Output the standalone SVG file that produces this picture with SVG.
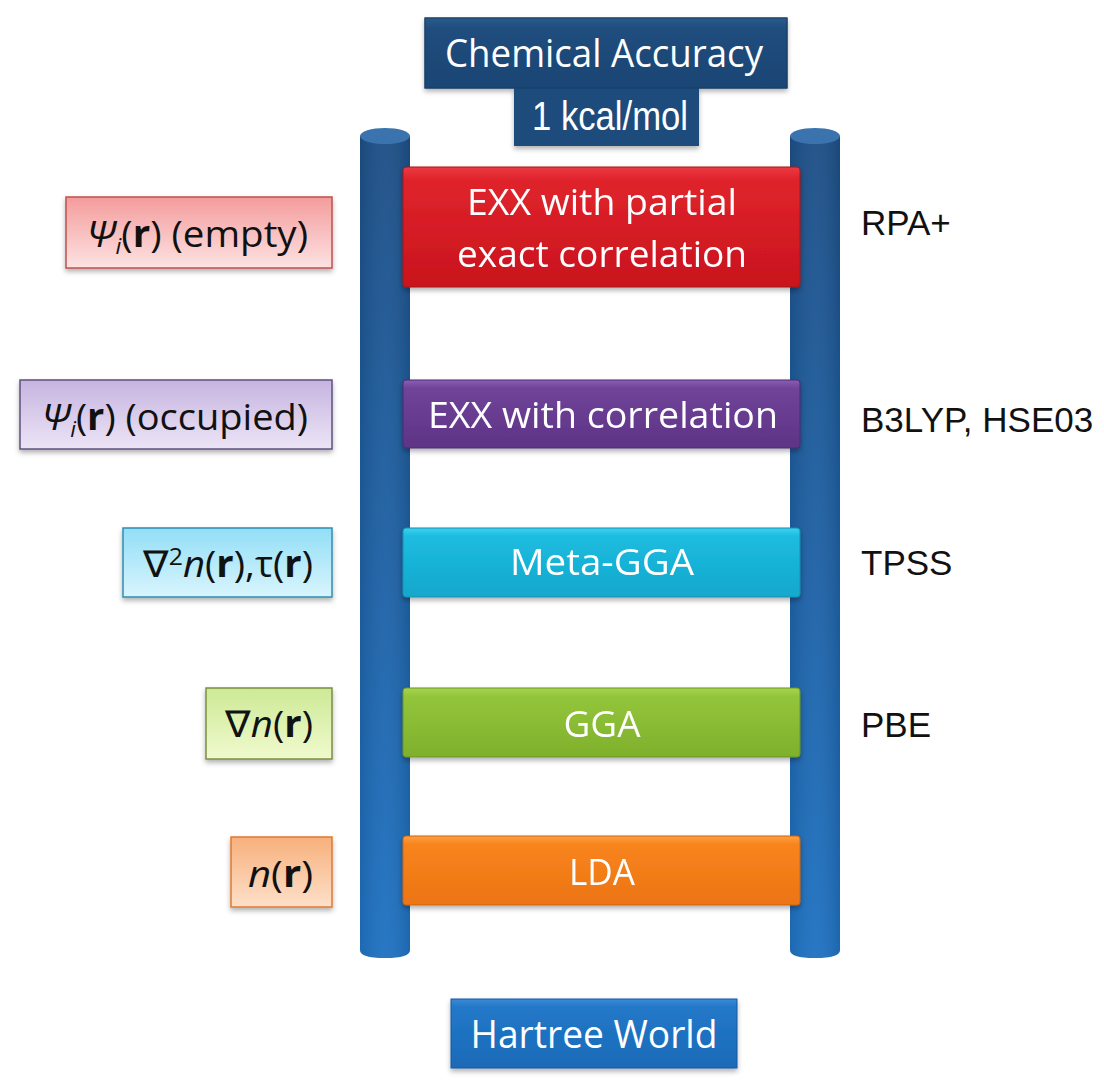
<svg xmlns="http://www.w3.org/2000/svg" width="1104" height="1080" viewBox="0 0 1104 1080">
<defs>
<linearGradient id="gPole" x1="0" y1="0" x2="0" y2="1">
<stop offset="0" stop-color="#1d4f86"/><stop offset="1" stop-color="#1f72c2"/>
</linearGradient>
<linearGradient id="gPoleH" x1="0" y1="0" x2="1" y2="0">
<stop offset="0" stop-color="#000" stop-opacity="0.08"/><stop offset="0.5" stop-color="#fff" stop-opacity="0.04"/><stop offset="1" stop-color="#000" stop-opacity="0.1"/>
</linearGradient>
<linearGradient id="gNavy" x1="0" y1="0" x2="0" y2="1">
<stop offset="0" stop-color="#2a5b8c"/><stop offset="0.15" stop-color="#1f4d7d"/><stop offset="1" stop-color="#1a4574"/>
</linearGradient>
<linearGradient id="gRed" x1="0" y1="0" x2="0" y2="1">
<stop offset="0" stop-color="#ec3a42"/><stop offset="0.1" stop-color="#e0242c"/><stop offset="1" stop-color="#c8141d"/>
</linearGradient>
<linearGradient id="gPur" x1="0" y1="0" x2="0" y2="1">
<stop offset="0" stop-color="#8a5fb5"/><stop offset="0.12" stop-color="#704399"/><stop offset="1" stop-color="#5e3486"/>
</linearGradient>
<linearGradient id="gCya" x1="0" y1="0" x2="0" y2="1">
<stop offset="0" stop-color="#3fd0ef"/><stop offset="0.12" stop-color="#1cbce0"/><stop offset="1" stop-color="#14a7cc"/>
</linearGradient>
<linearGradient id="gGrn" x1="0" y1="0" x2="0" y2="1">
<stop offset="0" stop-color="#a8d450"/><stop offset="0.12" stop-color="#93c53b"/><stop offset="1" stop-color="#7fb02c"/>
</linearGradient>
<linearGradient id="gOra" x1="0" y1="0" x2="0" y2="1">
<stop offset="0" stop-color="#ffa040"/><stop offset="0.12" stop-color="#f8841e"/><stop offset="1" stop-color="#ec7412"/>
</linearGradient>
<linearGradient id="gHW" x1="0" y1="0" x2="0" y2="1">
<stop offset="0" stop-color="#3a8ad6"/><stop offset="0.12" stop-color="#2278c8"/><stop offset="1" stop-color="#1a6ab8"/>
</linearGradient>
<linearGradient id="lRed" x1="0" y1="0" x2="0" y2="1">
<stop offset="0" stop-color="#f49c9c"/><stop offset="1" stop-color="#fde2e2"/>
</linearGradient>
<linearGradient id="lPur" x1="0" y1="0" x2="0" y2="1">
<stop offset="0" stop-color="#c6b4e0"/><stop offset="1" stop-color="#ece4f6"/>
</linearGradient>
<linearGradient id="lCya" x1="0" y1="0" x2="0" y2="1">
<stop offset="0" stop-color="#92def6"/><stop offset="1" stop-color="#d9f5fd"/>
</linearGradient>
<linearGradient id="lGrn" x1="0" y1="0" x2="0" y2="1">
<stop offset="0" stop-color="#cde996"/><stop offset="1" stop-color="#f0facd"/>
</linearGradient>
<linearGradient id="lOra" x1="0" y1="0" x2="0" y2="1">
<stop offset="0" stop-color="#f7b07c"/><stop offset="1" stop-color="#fde0c9"/>
</linearGradient>
<filter id="sh" x="-5%" y="-10%" width="110%" height="130%">
<feDropShadow dx="0" dy="3" stdDeviation="2.5" flood-color="#000" flood-opacity="0.3"/>
</filter>
</defs>
<style>
.w{fill:#fff;font-family:"Open Sans","Noto Sans",sans-serif;}
.t{font-family:"Liberation Sans",Arial,sans-serif;font-size:35px;fill:#111;}
.l{font-family:"Open Sans","Noto Sans",sans-serif;font-size:37px;fill:#111;}
.b{font-weight:bold;}
.rung{filter:url(#sh);}
</style>
<rect width="1104" height="1080" fill="#fff"/>

<g id="ladder">
<g id="pole-left">
<path d="M360,136 L360,950 Q360,958 385,958 Q410,958 410,950 L410,136 Z" fill="url(#gPole)"/>
<path d="M360,136 L360,950 Q360,958 385,958 Q410,958 410,950 L410,136 Z" fill="url(#gPoleH)"/>
<ellipse cx="385" cy="136" rx="25" ry="8" fill="#3a73ad"/>
</g>
<g id="pole-right">
<path d="M790,136 L790,950 Q790,958 815,958 Q840,958 840,950 L840,136 Z" fill="url(#gPole)"/>
<path d="M790,136 L790,950 Q790,958 815,958 Q840,958 840,950 L840,136 Z" fill="url(#gPoleH)"/>
<ellipse cx="815" cy="136" rx="25" ry="8" fill="#3a73ad"/>
</g>
</g>

<g id="chemical-accuracy">
<rect x="425" y="18" width="362" height="70" fill="url(#gNavy)" stroke="#173c63" stroke-width="1" filter="url(#sh)"/>
<rect x="514" y="88" width="185" height="58" fill="#1d4b7b" filter="url(#sh)"/>
<rect x="425" y="18" width="362" height="70" fill="url(#gNavy)" stroke="#173c63" stroke-width="1"/>
<text class="w" x="604" y="67" font-size="39" text-anchor="middle" textLength="318" lengthAdjust="spacingAndGlyphs">Chemical Accuracy</text>
<text x="610" y="130" font-size="40" text-anchor="middle" textLength="156" lengthAdjust="spacingAndGlyphs" style="fill:#fff;font-family:'Liberation Sans',Arial,sans-serif">1 kcal/mol</text>
</g>

<g id="rung-rpa" class="rung">
<rect x="403" y="167" width="397" height="120" rx="3" fill="url(#gRed)" stroke="#a8141a" stroke-width="1"/>
<text class="w" x="602" y="215" font-size="37" text-anchor="middle" textLength="270" lengthAdjust="spacingAndGlyphs">EXX with partial</text>
<text class="w" x="602" y="267" font-size="37" text-anchor="middle" textLength="290" lengthAdjust="spacingAndGlyphs">exact correlation</text>
</g>
<g id="rung-hybrid" class="rung">
<rect x="403" y="380" width="397" height="68" rx="3" fill="url(#gPur)" stroke="#4d2a70" stroke-width="1"/>
<text class="w" x="603" y="428" font-size="37" text-anchor="middle" textLength="350" lengthAdjust="spacingAndGlyphs">EXX with correlation</text>
</g>
<g id="rung-metagga" class="rung">
<rect x="403" y="528" width="397" height="69" rx="3" fill="url(#gCya)" stroke="#1090b0" stroke-width="1"/>
<text class="w" x="602" y="575" font-size="37" text-anchor="middle" textLength="184" lengthAdjust="spacingAndGlyphs">Meta-GGA</text>
</g>
<g id="rung-gga" class="rung">
<rect x="403" y="688" width="397" height="69" rx="3" fill="url(#gGrn)" stroke="#6a9522" stroke-width="1"/>
<text class="w" x="602" y="737" font-size="37" text-anchor="middle" textLength="77" lengthAdjust="spacingAndGlyphs">GGA</text>
</g>
<g id="rung-lda" class="rung">
<rect x="403" y="836" width="397" height="69" rx="3" fill="url(#gOra)" stroke="#cc6410" stroke-width="1"/>
<text class="w" x="602" y="885" font-size="37" text-anchor="middle" textLength="66" lengthAdjust="spacingAndGlyphs">LDA</text>
</g>

<g id="hartree-world">
<rect x="451" y="999" width="286" height="69" fill="url(#gHW)" stroke="#1458a0" stroke-width="1" filter="url(#sh)"/>
<text class="w" x="594" y="1048" font-size="39" text-anchor="middle" textLength="247" lengthAdjust="spacingAndGlyphs">Hartree World</text>
</g>

<g id="input-empty">
<rect x="66" y="197" width="266" height="71" fill="url(#lRed)" stroke="#c0504d" stroke-width="1.5" filter="url(#sh)"/>
<text class="l" x="87" y="247" textLength="221" lengthAdjust="spacingAndGlyphs"><tspan font-style="italic">Ψ</tspan><tspan font-style="italic" font-size="22" dy="7">i</tspan><tspan dy="-7">(</tspan><tspan class="b">r</tspan>) (empty)</text>
</g>
<g id="input-occupied">
<rect x="20" y="380" width="312" height="69" fill="url(#lPur)" stroke="#5f5080" stroke-width="1.5" filter="url(#sh)"/>
<text class="l" x="42" y="430" textLength="266" lengthAdjust="spacingAndGlyphs"><tspan font-style="italic">Ψ</tspan><tspan font-style="italic" font-size="22" dy="7">i</tspan><tspan dy="-7">(</tspan><tspan class="b">r</tspan>) (occupied)</text>
</g>
<g id="input-laplacian">
<rect x="123" y="528" width="209" height="69" fill="url(#lCya)" stroke="#2e8fb0" stroke-width="1.5" filter="url(#sh)"/>
<text class="l" x="143" y="577" textLength="170" lengthAdjust="spacingAndGlyphs">∇<tspan font-size="24" dy="-12">2</tspan><tspan font-style="italic" dy="12">n</tspan>(<tspan class="b">r</tspan>),τ(<tspan class="b">r</tspan>)</text>
</g>
<g id="input-gradient">
<rect x="206" y="688" width="126" height="71" fill="url(#lGrn)" stroke="#7a8f40" stroke-width="1.5" filter="url(#sh)"/>
<text class="l" x="225" y="737" textLength="88" lengthAdjust="spacingAndGlyphs">∇<tspan font-style="italic">n</tspan>(<tspan class="b">r</tspan>)</text>
</g>
<g id="input-density">
<rect x="231" y="837" width="101" height="70" fill="url(#lOra)" stroke="#e07a30" stroke-width="1.5" filter="url(#sh)"/>
<text class="l" x="248" y="887" textLength="65" lengthAdjust="spacingAndGlyphs"><tspan font-style="italic">n</tspan>(<tspan class="b">r</tspan>)</text>
</g>

<g id="examples">
<text class="t" x="861" y="235">RPA+</text>
<text class="t" x="861" y="432">B3LYP, HSE03</text>
<text class="t" x="861" y="575">TPSS</text>
<text class="t" x="861" y="737">PBE</text>
</g>
</svg>
